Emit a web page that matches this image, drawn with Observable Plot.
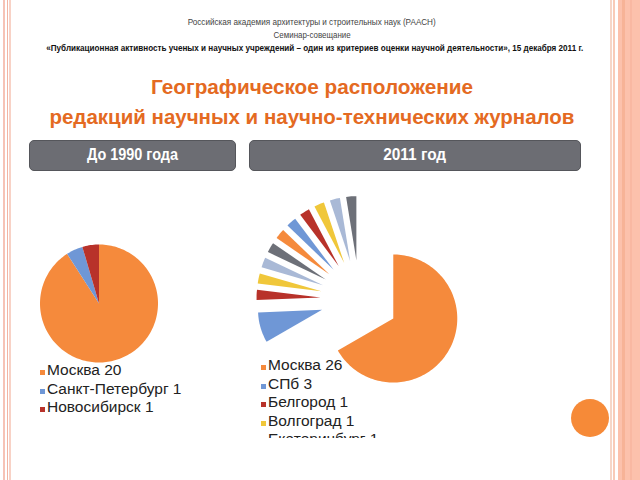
<!DOCTYPE html>
<html><head><meta charset="utf-8">
<script src="https://cdn.jsdelivr.net/npm/d3@7"></script>
<script src="https://cdn.jsdelivr.net/npm/@observablehq/plot@0.6"></script>
<style>
html,body{margin:0;padding:0;}
body{width:640px;height:480px;position:relative;overflow:hidden;background:#fff;font-family:"Liberation Sans",Arial,sans-serif;}
.abs{position:absolute;}
.ctr{position:absolute;left:0;width:624px;text-align:center;white-space:nowrap;}
.ctr span{display:inline-block;transform-origin:center;}
.btn{position:absolute;background:#6c6d73;border:1px solid #55565b;border-radius:5px;box-sizing:border-box;color:#fff;font-weight:bold;font-size:16px;text-align:center;line-height:28px;white-space:nowrap;}
.btn span{display:inline-block;transform-origin:center;}
.leg{position:absolute;font-size:15.5px;color:#222;white-space:nowrap;}
.leg div{position:relative;height:18.5px;line-height:18.5px;padding-left:7px;}
.leg i{position:absolute;left:0;top:9px;width:5px;height:5px;}
</style></head>
<body>
<!-- slide borders -->
<div class="abs" style="left:3px;top:0;width:2px;height:480px;background:#f6c3b6"></div>
<div class="abs" style="left:7px;top:0;width:1px;height:480px;background:#f3b4a3"></div>
<div class="abs" style="left:9px;top:0;width:2px;height:480px;background:#f8d2c6"></div>
<div class="abs" style="left:610px;top:0;width:2px;height:480px;background:#f6d6c8"></div>
<div class="abs" style="left:613px;top:0;width:2px;height:480px;background:#f8cbb8"></div>
<div class="abs" style="left:618px;top:0;width:22px;height:480px;background:#fcc1ac"></div>
<div class="abs" style="left:622px;top:0;width:3px;height:480px;background:#f7b397"></div>
<div class="abs" style="left:630px;top:0;width:2px;height:480px;background:#f9b8a2"></div>

<div class="ctr" style="top:16px;font-size:9.5px;color:#444"><span data-w="248">Российская академия архитектуры и строительных наук  (РААСН)</span></div>
<div class="ctr" style="top:29px;font-size:9.5px;color:#444"><span data-w="77">Семинар-совещание</span></div>
<div class="ctr" style="top:42px;font-size:9.5px;color:#111;font-weight:bold"><span data-w="537">«Публикационная активность ученых и научных учреждений –  один из критериев оценки научной деятельности», 15 декабря 2011 г.</span></div>

<div class="ctr" style="top:75px;font-size:21px;color:#e46a22;font-weight:bold"><span data-w="322">Географическое расположение</span></div>
<div class="ctr" style="top:105px;font-size:21px;color:#e46a22;font-weight:bold"><span data-w="525">редакций научных и научно-технических журналов</span></div>

<div class="btn" style="left:29px;top:140px;width:207px;height:31px"><span data-w="91">До 1990 года</span></div>
<div class="btn" style="left:249px;top:140px;width:332px;height:31px"><span data-w="63">2011 год</span></div>

<div id="pieL" class="abs" style="left:20px;top:230px"></div>
<div id="pieR" class="abs" style="left:240px;top:185px"></div>

<div id="legL" class="leg" style="left:40px;top:361px"></div>
<div id="legR" class="leg" style="left:261px;top:356px;height:82px;overflow:hidden;width:200px"></div>

<div class="abs" style="left:571px;top:399px;width:38px;height:38px;border-radius:50%;background:#f68a38"></div>

<script>
// ---- data ----
const palette = ["#f58a3c", "#6f97d6", "#b8322a", "#f0c73a", "#a9b9d6", "#6d7078"];
const citiesBefore = ["Москва", "Санкт-Петербург", "Новосибирск"];
const countsBefore = [20, 1, 1];
const cities2011 = ["Москва", "СПб", "Белгород", "Волгоград", "Екатеринбург", "Казань", "Новосибирск", "Пермь", "Ростов-на-Дону", "Самара", "Томск", "Уфа"];
const counts2011 = [26, 3, 1, 1, 1, 1, 1, 1, 1, 1, 1, 1];
const legendRows2011 = 5; // the legend box in the reference is cut after the 5th row

function pieRows(names, counts, explode) {
  const total = d3.sum(counts);
  const rows = [];
  let acc = 0;
  names.forEach((name, i) => {
    const a0 = acc / total * 2 * Math.PI;
    acc += counts[i];
    const a1 = acc / total * 2 * Math.PI;
    const mid = (a0 + a1) / 2;
    const ox = explode * Math.sin(mid), oy = -explode * Math.cos(mid);
    const n = Math.max(4, Math.ceil((a1 - a0) / 0.03));
    rows.push({name, x: ox, y: oy});
    for (let k = 0; k <= n; k++) {
      const a = a0 + (a1 - a0) * k / n;
      rows.push({name, x: ox + Math.sin(a), y: oy - Math.cos(a)});
    }
    rows.push({name, x: ox, y: oy});
  });
  return rows;
}

function piePlot(names, counts, explode, w, h, cx, cy, r) {
  return Plot.plot({
    width: w, height: h, margin: 0,
    x: {domain: [-cx / r, (w - cx) / r], range: [0, w], axis: null},
    y: {domain: [-cy / r, (h - cy) / r], range: [0, h], axis: null},
    color: {domain: names, range: names.map((_, i) => palette[i % palette.length])},
    marks: [
      Plot.line(pieRows(names, counts, explode), {x: "x", y: "y", z: "name", fill: "name", stroke: "none", curve: "linear"})
    ]
  });
}

document.getElementById("pieL").append(piePlot(citiesBefore, countsBefore, 0, 160, 150, 78.5, 73, 59));
document.getElementById("pieR").append(piePlot(cities2011, counts2011, 39 / 64, 240, 210, 119, 113.5, 64));

function legend(el, names, counts, maxRows) {
  names.slice(0, maxRows).forEach((n, i) => {
    const d = document.createElement("div");
    const sq = document.createElement("i");
    sq.style.background = palette[i % palette.length];
    d.append(sq, document.createTextNode(n + " " + counts[i]));
    el.append(d);
  });
}
legend(document.getElementById("legL"), citiesBefore, countsBefore, citiesBefore.length);
legend(document.getElementById("legR"), cities2011, counts2011, legendRows2011);

// fit text widths
document.querySelectorAll("[data-w]").forEach(s => {
  const w = s.getBoundingClientRect().width;
  s.style.transform = `scaleX(${(+s.dataset.w / w).toFixed(3)})`;
});
</script>
</body></html>
